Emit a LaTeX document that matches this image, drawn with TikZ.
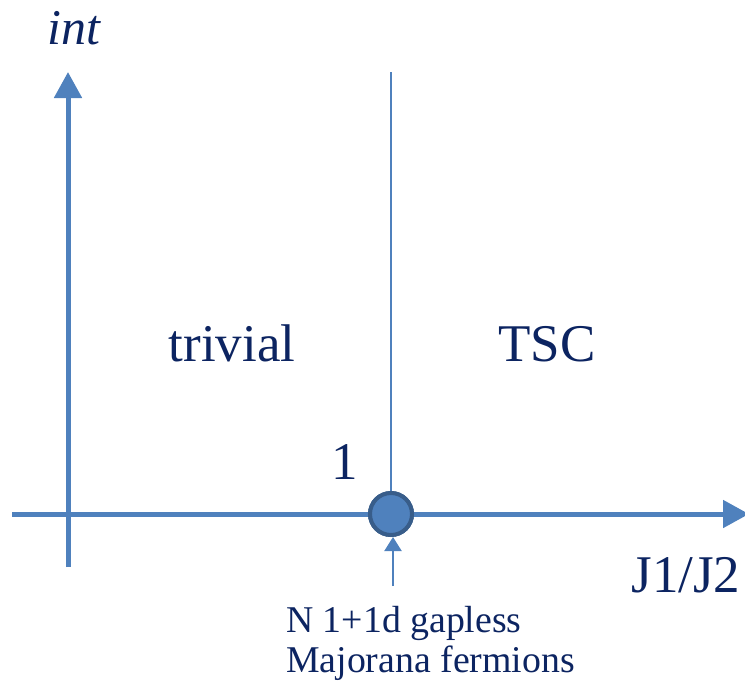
\documentclass[tikz,border=0pt]{standalone}
\usepackage{fontspec}
\setmainfont{Liberation Serif}
\usetikzlibrary{arrows.meta}
\definecolor{axisblue}{HTML}{4F81BD}
\definecolor{rimblue}{HTML}{385D8A}
\definecolor{labelnavy}{HTML}{0C2461}
\tikzset{
  axisline/.style={draw=axisblue, line width=5pt, -{Triangle[length=26pt,width=27pt]}},
  boundary/.style={draw=axisblue, line width=1.5pt},
  pointer/.style={draw=axisblue, line width=2pt, -{Triangle[length=14pt,width=17pt]}},
  critical/.style={circle, minimum size=42pt, inner sep=0pt, fill=axisblue, draw=rimblue, line width=4pt},
  biglabel/.style={text=labelnavy, font=\fontsize{53}{60}\selectfont, anchor=base, inner sep=0pt},
  smalllabel/.style={text=labelnavy, font=\fontsize{37.8}{40}\selectfont, anchor=base west, inner sep=0pt}
}
\begin{document}
\begin{tikzpicture}[x=1pt,y=-1pt]
  \useasboundingbox (0,0) rectangle (745,681);
  % axes
  \coordinate (ybot) at (68,567);
  \coordinate (ytop) at (68,72);
  \coordinate (xleft) at (12,514);
  \coordinate (xright) at (749,514);
  \draw[axisline] (ybot) -- (ytop);
  \draw[axisline] (xleft) -- (xright);
  % phase boundary and critical point
  \coordinate (btop) at (391,72);
  \node[critical] (crit) at (391,514) {};
  \draw[boundary] (btop) -- (crit.center);
  \node[critical] at (crit.center) {};
  % pointer to the critical point
  \coordinate (ptail) at (393,586);
  \draw[pointer] (ptail) -- (crit.south -| ptail);
  % labels
  \node[biglabel, font=\fontsize{50}{56}\selectfont\itshape] (int) at (74,44) {int};
  \node[biglabel] (triv) at (232,361) {trivial};
  \node[biglabel] (tsc) at (547,361) {TSC};
  \node[biglabel] (one) at (345,479) {1};
  \node[biglabel] (ratio) at (686,592) {J1/J2};
  \node[smalllabel] (l1) at (286,632) {N 1+1d gapless};
  \node[smalllabel] (l2) at (286,672) {Majorana fermions};
\end{tikzpicture}
\end{document}
